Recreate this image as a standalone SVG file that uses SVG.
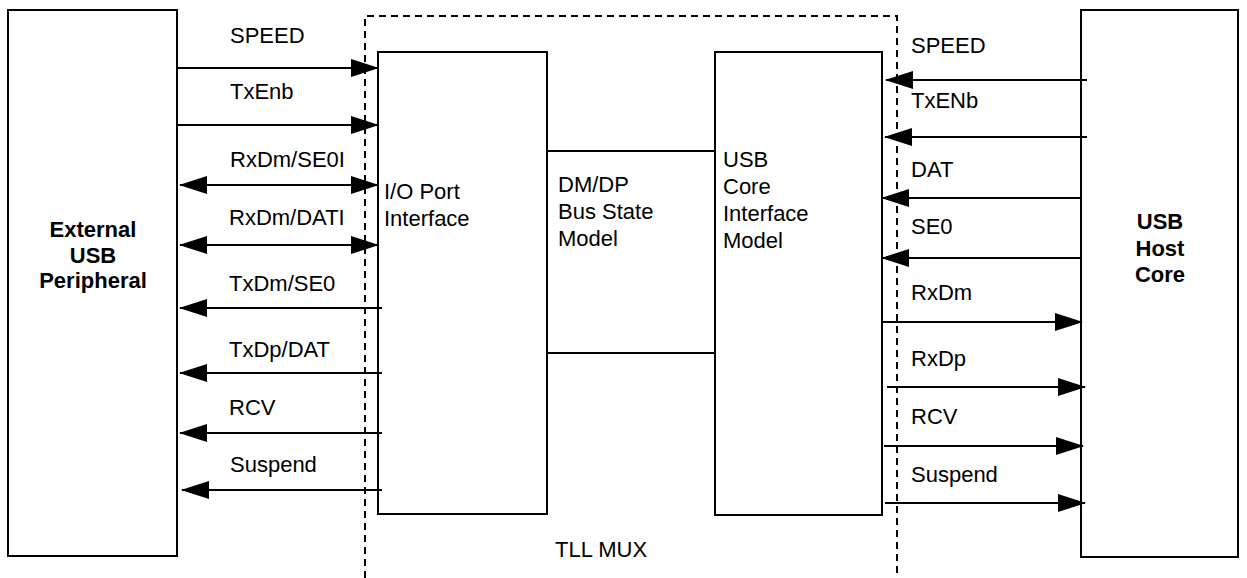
<svg xmlns="http://www.w3.org/2000/svg" width="1247" height="578" viewBox="0 0 1247 578">
<style>
.box{fill:#fff;stroke:#000;stroke-width:2}
.dash{fill:none;stroke:#000;stroke-width:2;stroke-dasharray:7 5}
.w{stroke:#000;stroke-width:2;fill:none}
text{font-family:"Liberation Sans",Arial,sans-serif;font-size:22px;fill:#000}
.b{font-weight:bold;text-anchor:middle}
</style>
<defs>
<marker id="ah" markerUnits="userSpaceOnUse" markerWidth="28" markerHeight="18" refX="27" refY="9" orient="auto-start-reverse" viewBox="0 0 28 18">
<path d="M0,0 L28,9 L0,18 z" fill="#000"/>
</marker>
</defs>
<rect width="1247" height="578" fill="#fff"/>
<g id="tll-mux">
<path class="dash" d="M365,578 L365,16 L897,16 L897,578"/>
<text x="555" y="557">TLL MUX</text>
</g>
<g id="external-usb-peripheral">
<rect class="box" x="8" y="10" width="169" height="546"/>
<text class="b" x="93" y="237">External</text>
<text class="b" x="93" y="263">USB</text>
<text class="b" x="93" y="288">Peripheral</text>
</g>
<g id="io-port-interface">
<rect class="box" x="378" y="52" width="169" height="462"/>
<text x="384" y="199">I/O Port</text>
<text x="384" y="226">Interface</text>
</g>
<g id="dm-dp-bus-state-model">
<rect class="box" x="547" y="151" width="168" height="202"/>
<text x="558" y="192">DM/DP</text>
<text x="558" y="219">Bus State</text>
<text x="558" y="246">Model</text>
</g>
<g id="usb-core-interface-model">
<rect class="box" x="715" y="52" width="167" height="463"/>
<text x="723" y="167">USB</text>
<text x="723" y="194">Core</text>
<text x="723" y="221">Interface</text>
<text x="723" y="248">Model</text>
</g>
<g id="usb-host-core">
<rect class="box" x="1081" y="10" width="157" height="547"/>
<text class="b" x="1160" y="229">USB</text>
<text class="b" x="1160" y="256">Host</text>
<text class="b" x="1160" y="282">Core</text>
</g>
<g id="connectors">
<line class="w" x1="177" y1="68" x2="378" y2="68" marker-end="url(#ah)"/>
<line class="w" x1="177" y1="125" x2="378" y2="125" marker-end="url(#ah)"/>
<line class="w" x1="180" y1="185" x2="378" y2="185" marker-start="url(#ah)" marker-end="url(#ah)"/>
<line class="w" x1="180" y1="245" x2="378" y2="245" marker-start="url(#ah)" marker-end="url(#ah)"/>
<line class="w" x1="382" y1="308" x2="180" y2="308" marker-end="url(#ah)"/>
<line class="w" x1="382" y1="373" x2="180" y2="373" marker-end="url(#ah)"/>
<line class="w" x1="382" y1="433" x2="180" y2="433" marker-end="url(#ah)"/>
<line class="w" x1="382" y1="490" x2="182" y2="490" marker-end="url(#ah)"/>
<line class="w" x1="1087" y1="80" x2="886" y2="80" marker-end="url(#ah)"/>
<line class="w" x1="1087" y1="137" x2="885" y2="137" marker-end="url(#ah)"/>
<line class="w" x1="1081" y1="198" x2="882" y2="198" marker-end="url(#ah)"/>
<line class="w" x1="1081" y1="258" x2="882" y2="258" marker-end="url(#ah)"/>
<line class="w" x1="882" y1="322" x2="1082" y2="322" marker-end="url(#ah)"/>
<line class="w" x1="887" y1="387" x2="1085" y2="387" marker-end="url(#ah)"/>
<line class="w" x1="884" y1="446" x2="1083" y2="446" marker-end="url(#ah)"/>
<line class="w" x1="885" y1="503" x2="1085" y2="503" marker-end="url(#ah)"/>
<text x="230" y="43">SPEED</text>
<text x="230" y="99">TxEnb</text>
<text x="230" y="167">RxDm/SE0I</text>
<text x="229" y="225">RxDm/DATI</text>
<text x="229" y="291">TxDm/SE0</text>
<text x="229" y="357">TxDp/DAT</text>
<text x="229" y="415">RCV</text>
<text x="230" y="472">Suspend</text>
<text x="911" y="53">SPEED</text>
<text x="911" y="108">TxENb</text>
<text x="911" y="177">DAT</text>
<text x="911" y="234">SE0</text>
<text x="911" y="300">RxDm</text>
<text x="911" y="366">RxDp</text>
<text x="911" y="424">RCV</text>
<text x="911" y="482">Suspend</text>
</g>
</svg>
